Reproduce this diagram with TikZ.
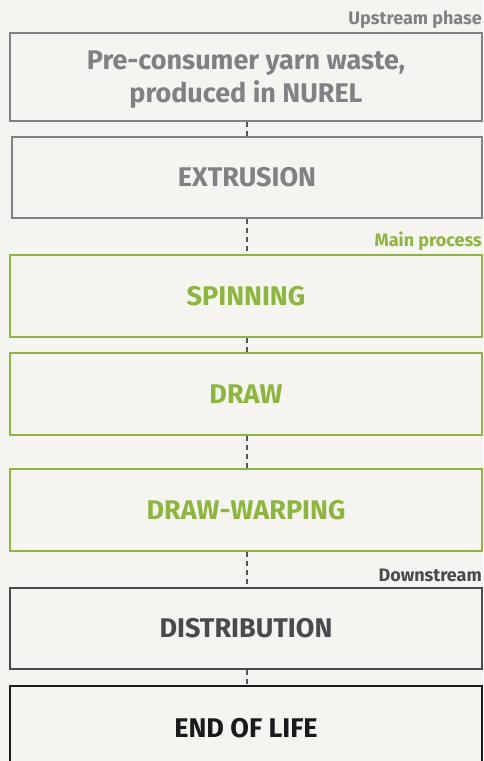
\documentclass[tikz,border=0pt]{standalone}
\usepackage{fontspec}
\setmainfont{Fira Sans}
\definecolor{bg}{HTML}{F6F4F0}
\definecolor{greyc}{HTML}{808184}
\definecolor{greenc}{HTML}{8CB63C}
\definecolor{darkc}{HTML}{4A4A4C}
\definecolor{blackc}{HTML}{1A1A1A}
\definecolor{connc}{HTML}{55565A}
\tikzset{
  box/.style={draw, line width=2pt, inner sep=0pt, minimum width=472pt, font=\bfseries\fontsize{27}{33}\selectfont, align=center},
  greybox/.style={box, draw=greyc, text=greyc},
  greenbox/.style={box, draw=greenc, text=greenc},
  darkbox/.style={box, draw=darkc, text=darkc},
  blackbox/.style={box, draw=blackc, text=blackc},
  conn/.style={draw=connc, line width=2pt, dash pattern=on 5pt off 4pt},
  phase/.style={anchor=east, inner sep=0pt, font=\bfseries\fontsize{18}{20}\selectfont}
}
\begin{document}
\begin{tikzpicture}[x=1pt,y=-1pt]
\fill[bg] (0,0) rectangle (483,761);
\useasboundingbox (0,0) rectangle (483,761);
\node[greybox, minimum height=88pt] (b1) at (246,77) {};
\node[inner sep=0pt, text=greyc, align=center, font=\bfseries\fontsize{27}{33}\selectfont] (t1) at ([yshift=-3pt]b1.center) {Pre-consumer yarn waste,\\produced in NUREL};
\node[greybox, minimum width=470pt, minimum height=81pt] (b2) at (247,177.5) {EXTRUSION};
\node[greenbox, minimum height=82pt] (b3) at (246,296) {SPINNING};
\node[greenbox, minimum height=82pt] (b4) at (246,394) {DRAW};
\node[greenbox, minimum height=82pt] (b5) at (246,510) {DRAW-WARPING};
\node[darkbox, minimum height=81pt] (b6) at (246,628.5) {DISTRIBUTION};
\node[blackbox, minimum height=84pt] (b7) at (246,728) {END OF LIFE};
\node[phase, text=greyc] (l1) at (482,20) {Upstream phase};
\node[phase, text=greenc] (l2) at (482,241) {Main process};
\node[phase, text=darkc] (l3) at (482,575) {Downstream};
\draw[conn] ([xshift=1pt]b1.south) -- (b2.north);
\draw[conn] (b2.south) -- ([xshift=1pt]b3.north);
\draw[conn] ([xshift=1pt]b3.south) -- ([xshift=1pt]b4.north);
\draw[conn] ([xshift=1pt]b4.south) -- ([xshift=1pt]b5.north);
\draw[conn] ([xshift=1pt]b5.south) -- ([xshift=1pt]b6.north);
\draw[conn] ([xshift=1pt]b6.south) -- ([xshift=1pt]b7.north);
\end{tikzpicture}
\end{document}
